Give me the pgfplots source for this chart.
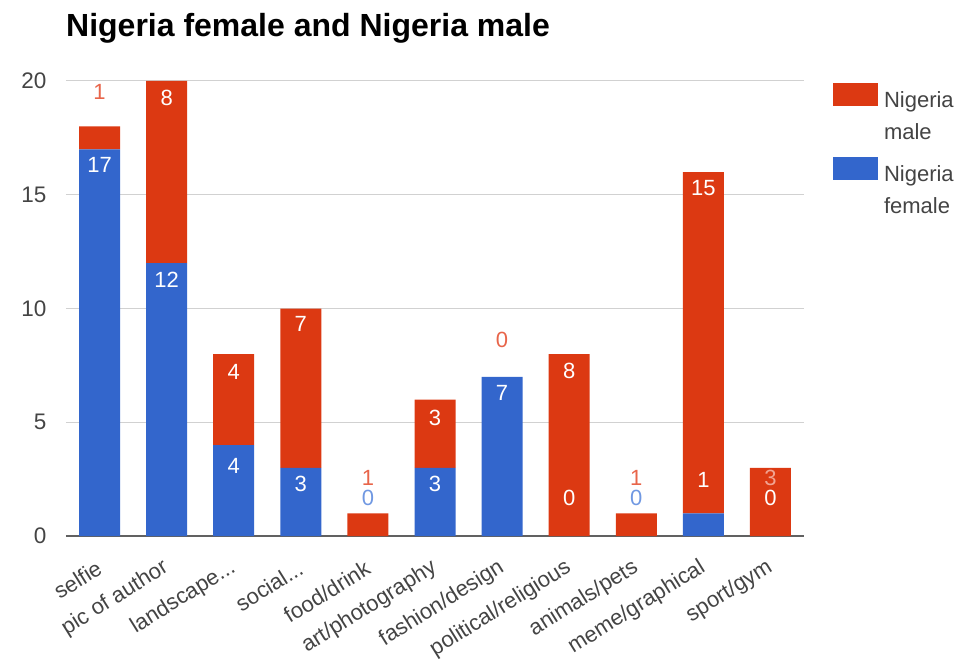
\documentclass[border=0pt]{standalone}
\usepackage{fontspec}
\setmainfont{Liberation Sans}
\usepackage{pgfplots}
\pgfplotsset{compat=1.18}
\definecolor{gred}{HTML}{DC3912}
\definecolor{gblue}{HTML}{3366CC}
\definecolor{lred}{HTML}{E8654A}
\definecolor{lblue}{HTML}{7098E2}
\definecolor{tickgray}{HTML}{444444}
\pgfplotsset{
  lbl/.style={only marks, mark=none, nodes near coords, point meta=explicit symbolic,
    nodes near coords style={anchor=center, font=\fontsize{22}{26}\selectfont, text=#1}},
}
\begin{document}
\begin{tikzpicture}
\path[use as bounding box] (-66pt,-126pt) rectangle (909pt,536pt);
\begin{axis}[
  at={(0pt,0pt)}, anchor=south west,
  scale only axis, width=738pt, height=455pt,
  ybar stacked, bar width=41pt,
  xmin=-0.5, xmax=10.5, ymin=0, ymax=20,
  ytick={0,5,10,15,20},
  xtick={0,1,2,3,4,5,6,7,8,9,10},
  xticklabels={selfie,pic of author,landscape.{}.{}.,social.{}.{}.,food/drink,art/photography,fashion/design,political/religious,animals/pets,meme/graphical,sport/gym},
  xticklabel style={yshift=-30pt, xshift=0pt, rotate=32, anchor=east, font=\fontsize{22}{26}\selectfont, text=tickgray, inner sep=0pt},
  yticklabel style={font=\fontsize{22.5}{27}\selectfont, text=tickgray, xshift=-16pt},
  /pgf/number format/assume math mode=true,
  axis x line*=bottom, axis y line*=left,
  x axis line style={draw=black!62, line width=1.8pt, -},
  y axis line style={draw=none},
  major tick length=0pt,
  ymajorgrids, major grid style={draw=black!18, line width=1pt},
  title={Nigeria female and Nigeria male},
  title style={at={(rel axis cs:0,1)}, anchor=west, yshift=47pt, font=\bfseries\fontsize{32}{36}\selectfont, inner sep=0pt},
  legend style={at={(rel axis cs:1.035,1.0)}, anchor=north west, draw=none, font=\fontsize{22}{32}\selectfont, text=tickgray, cells={align=left, anchor=north west}, row sep=14pt, column sep=4pt},
  legend cell align=left,
  reverse legend,
  legend image code/.code={\fill[#1] (0pt,10pt) rectangle (45pt,33pt);},
  clip=false,
]
\addplot[fill=gblue, draw=none] coordinates {(0,17) (1,12) (2,4) (3,3) (4,0) (5,3) (6,7) (7,0) (8,0) (9,1) (10,0)};
\addlegendentry{Nigeria\\female}
\addplot[fill=gred, draw=none] coordinates {(0,1) (1,8) (2,4) (3,7) (4,1) (5,3) (6,0) (7,8) (8,1) (9,15) (10,3)};
\addlegendentry{Nigeria\\male}
\end{axis}
\begin{axis}[
  at={(0pt,0pt)}, anchor=south west,
  scale only axis, width=738pt, height=455pt,
  xmin=-0.5, xmax=10.5, ymin=0, ymax=20,
  hide axis, clip=false,
]
% labels inside bars (white)
\addplot[lbl=white] coordinates {(0,16.3) [17] (1,11.25) [12] (2,3.1) [4] (3,2.3) [3] (5,2.3) [3] (6,6.3) [7] (7,1.67) [0] (9,2.45) [1] (10,1.67) [0]
  (1,19.25) [8] (2,7.2) [4] (3,9.3) [7] (5,5.2) [3] (7,7.25) [8] (9,15.3) [15]};
% labels above small bars
\addplot[lbl=lblue] coordinates {(4,1.67) [0] (8,1.67) [0]};
\addplot[lbl=lred] coordinates {(0,19.5) [1] (4,2.55) [1] (6,8.6) [0] (8,2.55) [1]};
\addplot[lbl=lred!60] coordinates {(10,2.55) [3]};
\end{axis}
\end{tikzpicture}
\end{document}
